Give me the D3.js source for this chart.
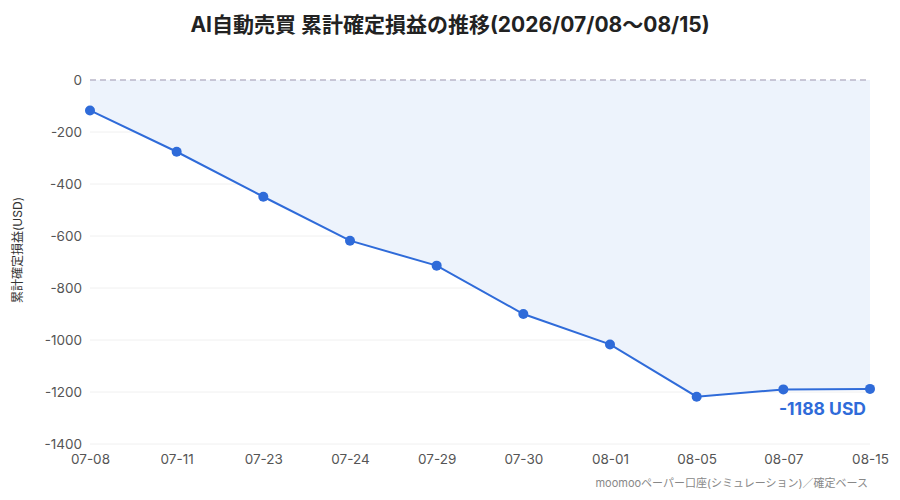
<!doctype html>
<html lang="ja">
<head>
<meta charset="utf-8">
<title>AI自動売買 累計確定損益の推移</title>
<style>
  body { margin: 0; background: #fff; }
  svg { display: block; }
</style>
</head>
<body>
<div id="chart"></div>
<script src="https://cdn.jsdelivr.net/npm/d3@7"></script>
<script>
// data
var dates  = ["07-08", "07-11", "07-23", "07-24", "07-29", "07-30", "08-01", "08-05", "08-07", "08-15"];
var values = [-117, -276, -449, -618, -714, -900, -1017, -1218, -1190, -1188];
var yTicks = [0, -200, -400, -600, -800, -1000, -1200, -1400];

var width = 900, height = 500;
var margin = {top: 80, right: 30, bottom: 56, left: 90};
var font = "Inter, 'Noto Sans CJK JP', sans-serif";
var blue = "#2f6bd9";

var svg = d3.select("#chart").append("svg")
    .attr("width", width)
    .attr("height", height)
    .style("font-family", font);

var x = d3.scalePoint()
    .domain(dates)
    .range([margin.left, width - margin.right]);

var y = d3.scaleLinear()
    .domain([-1400, 0])
    .range([height - margin.bottom, margin.top]);

var data = dates.map(function(d, i) { return {date: d, value: values[i]}; });

// plain hyphen for negatives, like the original
var fmt = function(v) { return String(v); };

// title
svg.append("text")
    .attr("x", width / 2)
    .attr("y", 32)
    .attr("text-anchor", "middle")
    .style("font-size", "21px")
    .style("font-weight", "bold")
    .style("fill", "#222")
    .text("AI自動売買 累計確定損益の推移(2026/07/08〜08/15)");

// grid lines
svg.append("g")
    .selectAll("line")
    .data(yTicks.filter(function(t) { return t !== 0; }))
    .enter().append("line")
    .attr("x1", margin.left)
    .attr("x2", width - margin.right)
    .attr("y1", function(d) { return y(d); })
    .attr("y2", function(d) { return y(d); })
    .style("stroke", "#f0f0f0")
    .style("stroke-width", 1);

// area between 0 and the line
var area = d3.area()
    .x(function(d) { return x(d.date); })
    .y0(y(0))
    .y1(function(d) { return y(d.value); });

svg.append("path")
    .datum(data)
    .attr("d", area)
    .style("fill", "#edf3fc");

// zero line
svg.append("line")
    .attr("x1", margin.left)
    .attr("x2", width - margin.right)
    .attr("y1", y(0))
    .attr("y2", y(0))
    .style("stroke", "#b9b6c9")
    .style("stroke-width", 1.5)
    .style("stroke-dasharray", "6,4");

// y axis
var yAxis = svg.append("g")
    .attr("transform", "translate(" + margin.left + ",0)")
    .call(d3.axisLeft(y).tickValues(yTicks).tickSize(0).tickPadding(8).tickFormat(fmt));
yAxis.select(".domain").remove();
yAxis.selectAll("text")
    .style("font-family", font)
    .style("font-size", "13.5px")
    .style("fill", "#555");

// x axis
var xAxis = svg.append("g")
    .attr("transform", "translate(0," + (height - margin.bottom) + ")")
    .call(d3.axisBottom(x).tickSize(0).tickPadding(10));
xAxis.select(".domain").remove();
xAxis.selectAll("text")
    .style("font-family", font)
    .style("font-size", "13.5px")
    .style("fill", "#555");

// y axis title
svg.append("text")
    .attr("transform", "translate(22,250) rotate(-90)")
    .attr("text-anchor", "middle")
    .style("font-size", "12px")
    .style("fill", "#333")
    .text("累計確定損益(USD)");

// line
var line = d3.line()
    .x(function(d) { return x(d.date); })
    .y(function(d) { return y(d.value); });

svg.append("path")
    .datum(data)
    .attr("d", line)
    .style("fill", "none")
    .style("stroke", blue)
    .style("stroke-width", 2);

svg.append("g")
    .selectAll("circle")
    .data(data)
    .enter().append("circle")
    .attr("cx", function(d) { return x(d.date); })
    .attr("cy", function(d) { return y(d.value); })
    .attr("r", 5)
    .style("fill", blue);

// last value label
var last = data[data.length - 1];
svg.append("text")
    .attr("x", x(last.date) - 4)
    .attr("y", y(last.value) + 26)
    .attr("text-anchor", "end")
    .style("font-size", "17.5px")
    .style("font-weight", "bold")
    .style("fill", blue)
    .text(fmt(last.value) + " USD");

// source note
svg.append("text")
    .attr("x", width - margin.right - 2)
    .attr("y", 487)
    .attr("text-anchor", "end")
    .style("font-size", "11px")
    .style("fill", "#888")
    .text("moomooペーパー口座(シミュレーション)／確定ベース");
</script>
</body>
</html>
